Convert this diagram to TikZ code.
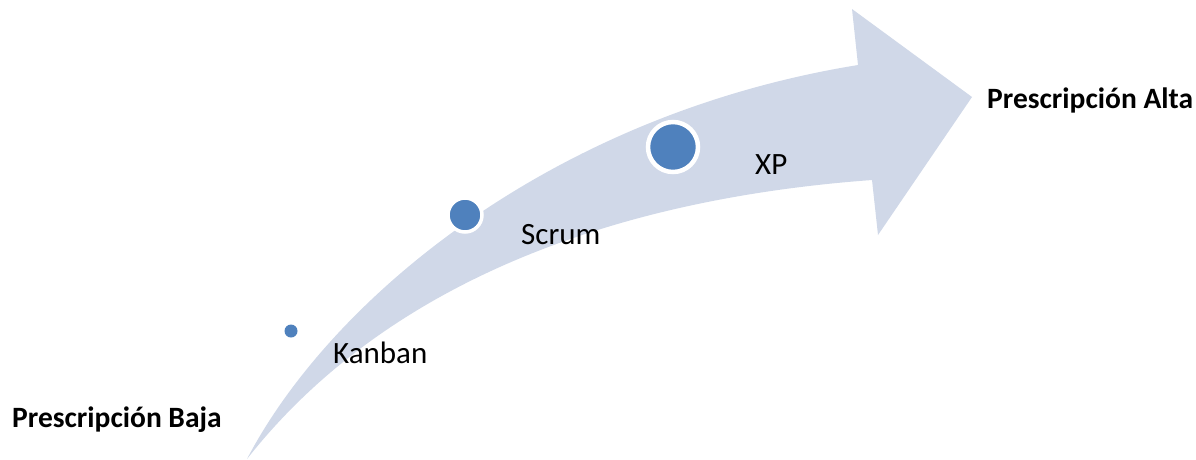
\documentclass[tikz,border=0pt]{standalone}
\usepackage{fontspec}
\setmainfont{Carlito}
\definecolor{arrowfill}{HTML}{D0D8E8}
\definecolor{dotblue}{HTML}{4F81BD}
\begin{document}
\begin{tikzpicture}[x=1pt,y=-1pt,
  dot/.style={circle,fill=dotblue,draw=white,inner sep=0pt},
  lbl/.style={anchor=west,inner sep=0pt,font=\fontsize{31}{37}\selectfont},
  blbl/.style={anchor=west,inner sep=0pt,font=\fontsize{29.5}{36}\selectfont\bfseries}]
\useasboundingbox (0,0) rectangle (1196,459);
% curved arrow
\fill[arrowfill] (247,459) .. controls (330,300) and (550,115) .. (858,65)
  -- (852,9) -- (972,97) -- (878,235) -- (872,180)
  .. controls (600,200) and (380,290) .. (247,459) -- cycle;
% dots
\node[dot,minimum size=13pt,draw=none] (kanbandot) at (291,331) {};
\node[dot,line width=3.5pt,minimum size=34pt] (scrumdot) at (465,215) {};
\node[dot,line width=4.5pt,minimum size=50pt] (xpdot) at (673,147) {};
% labels
\node[lbl] (kanban) at (333,353) {Kanban};
\node[lbl] (scrum) at (521,235) {Scrum};
\node[lbl] (xp) at (755,165) {XP};
\node[blbl] (alta) at (987,100) {Prescripción Alta};
\node[blbl] (baja) at (12,420) {Prescripción Baja};
\end{tikzpicture}
\end{document}
